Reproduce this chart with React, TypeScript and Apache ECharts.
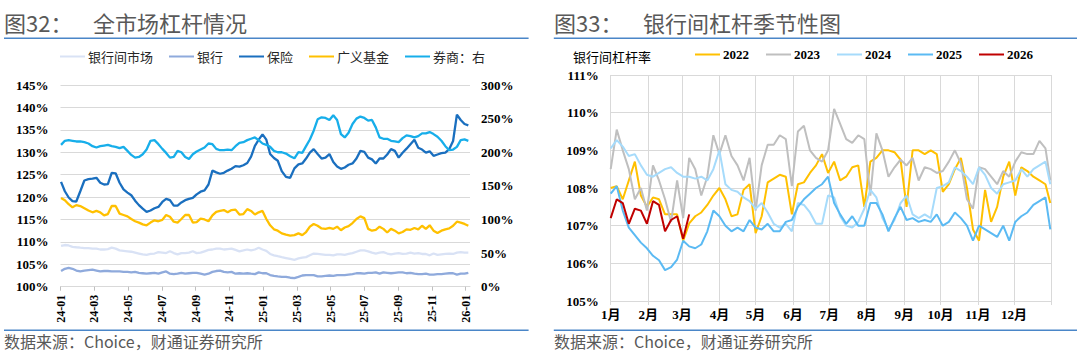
import { useEffect, useRef } from 'react';
import * as echarts from 'echarts';

// ---------- Left chart: 全市场杠杆情况 (weekly, from 2024-01-02) ----------
const leftStart = '2024-01-02';
const leftWeekCount = 106;
const leftTickMonths = [0, 2, 4, 6, 8, 10, 12, 14, 16, 18, 20, 22, 24];

const interbankMarket = [
  109.1, 109.3, 109.2, 108.9, 108.8, 108.7, 108.6, 108.6, 108.5, 108.5,
  108.3, 108.3, 108.4, 108.7, 108.5, 108.1, 108.0, 107.9, 107.8, 107.6,
  107.4, 107.2, 107.1, 107.3, 107.4, 107.7, 107.6, 107.5, 107.9, 107.5,
  107.2, 107.5, 107.5, 107.6, 107.9, 107.5, 107.6, 107.9, 108.2, 108.3,
  108.5, 108.5, 108.3, 108.4, 108.5, 108.2, 107.9, 108.1, 108.3, 108.1,
  108.3, 108.7, 108.3, 108.0, 107.3, 107.0, 106.8, 106.6, 106.4, 106.2,
  106.0, 106.3, 106.5, 106.6, 107.0, 107.4, 107.3, 107.2, 107.1, 107.1,
  107.0, 107.2, 107.2, 107.1, 107.3, 107.5, 107.8, 108.1, 108.1, 107.9,
  107.6, 107.4, 107.6, 107.7, 107.4, 107.2, 107.4, 107.5, 107.3, 107.4,
  107.6, 107.4, 107.5, 107.3, 107.3, 107.0, 107.4, 107.1, 107.2, 107.3,
  107.4, 107.3, 107.6, 107.7, 107.6, 107.6,
];
const banks = [
  103.5, 104.0, 104.2, 104.0, 103.6, 103.4, 103.6, 103.7, 103.8, 103.6,
  103.4, 103.5, 103.5, 103.4, 103.4, 103.4, 103.3, 103.3, 103.2, 103.3,
  103.1, 103.0, 102.9, 103.0, 103.1, 102.9, 103.2, 103.4, 102.9, 102.8,
  102.9, 103.1, 102.9, 103.0, 103.1, 103.1, 102.9, 102.7, 102.9, 103.3,
  103.5, 103.6, 103.3, 103.2, 103.3, 102.9, 103.0, 102.9, 103.0, 102.9,
  102.8, 103.2, 103.0, 103.0, 102.6, 102.4, 102.3, 102.2, 102.2, 102.0,
  101.9, 102.2, 102.5, 102.6, 102.6, 102.6, 102.3, 102.3, 102.4, 102.5,
  102.4, 102.6, 102.6, 102.6, 102.7, 102.8, 103.0, 103.0, 102.9, 103.1,
  103.1, 103.2, 102.9, 103.2, 103.1, 103.0, 103.1, 103.2, 103.2, 103.0,
  103.1, 102.9, 102.8, 102.8, 102.9, 102.7, 102.7, 102.8, 102.8, 102.9,
  103.0, 103.0, 102.7, 102.9, 102.9, 103.1,
];
const insurance = [
  123.4, 121.3, 119.9, 119.1, 119.0, 121.3, 123.7, 124.0, 124.1, 124.3,
  123.2, 122.8, 122.9, 125.4, 125.3, 123.2, 121.7, 121.0, 120.4, 119.2,
  118.2, 117.4, 116.7, 117.0, 117.5, 117.8, 118.9, 119.6, 119.3, 118.1,
  118.1, 118.8, 119.3, 119.6, 119.8, 120.6, 121.2, 121.5, 122.8, 125.9,
  125.5, 125.2, 125.4, 125.9, 126.3, 126.9, 126.8, 127.1, 127.6, 129.0,
  131.4, 132.8, 134.0, 132.8, 129.6, 128.7, 128.1, 125.8, 124.5, 124.3,
  126.4, 127.3, 127.5, 128.6, 129.9, 130.7, 129.6, 128.6, 128.8, 129.6,
  127.8, 126.8, 126.3, 126.6, 127.2, 127.5, 128.6, 130.3, 130.1, 128.8,
  128.4, 127.5, 128.6, 128.6, 129.5, 130.7, 130.3, 128.8, 129.9, 130.8,
  131.8, 132.8, 131.0, 130.6, 129.9, 130.2, 129.2, 129.5, 129.8, 129.9,
  130.7, 132.5, 138.4, 137.2, 136.3, 136.0,
];
const broadFunds = [
  119.8, 119.3, 118.4, 117.7, 118.2, 118.0, 117.5, 117.0, 116.6, 116.9,
  116.6, 115.9, 116.2, 118.0, 118.0, 116.3, 116.0, 115.7, 115.1, 114.6,
  114.3, 113.9, 113.7, 114.3, 114.8, 114.6, 114.9, 116.0, 115.6, 114.5,
  114.3, 115.1, 116.0, 116.0, 114.3, 114.4, 115.2, 115.0, 114.6, 115.9,
  116.7, 116.9, 117.1, 116.6, 117.1, 117.2, 116.1, 116.2, 117.3, 116.9,
  116.1, 116.6, 116.9, 115.1, 113.7, 112.8, 112.5, 111.9, 111.6, 111.4,
  111.5, 111.9, 111.5, 112.2, 113.4, 114.0, 113.6, 113.0, 112.9, 113.1,
  112.9, 113.4, 112.6, 113.2, 113.5, 114.2, 115.1, 115.7, 115.3, 112.9,
  112.5, 112.7, 113.4, 112.9, 112.1, 112.9, 112.5, 111.9, 112.2, 112.8,
  112.7, 113.1, 112.8, 113.6, 112.9, 113.7, 112.5, 112.0, 112.5, 112.8,
  113.0, 113.6, 114.5, 114.3, 114.0, 113.6,
];
const brokers = [
  211, 217, 218, 217, 216, 216, 215, 213, 209, 207,
  209, 210, 211, 209, 208, 206, 208, 202, 196, 192,
  193, 197, 204, 217, 218, 212, 205, 199, 192, 193,
  202, 200, 193, 190, 197, 201, 204, 207, 213, 212,
  205, 203, 203, 204, 203, 209, 214, 215, 218, 220,
  222, 218, 213, 211, 208, 202, 200, 200, 198, 194,
  191, 200, 199, 209, 219, 232, 249, 252, 251, 248,
  255, 248, 227, 222, 229, 242, 250, 253, 251, 247,
  248, 237, 222, 220, 220, 217, 216, 215, 221, 225,
  224, 222, 224, 228, 228, 230, 227, 223, 217, 209,
  203, 204, 208, 218, 219, 217,
];

// ---------- Right chart: 银行间杠杆季节性图 (day of year) ----------
const monthStarts = [0, 31, 59, 90, 120, 151, 181, 212, 243, 273, 304, 334, 365];
const monthLabels = ['1月', '2月', '3月', '4月', '5月', '6月', '7月', '8月', '9月', '10月', '11月', '12月'];
const seasonDays = [
  0, 5, 10, 15, 20, 25, 30, 35, 40, 45, 50, 55, 60, 65, 70, 75, 80, 85, 90, 95,
  100, 105, 110, 115, 120, 125, 130, 135, 140, 145, 150, 155, 160, 165, 170, 175, 180, 185, 190, 195,
  200, 205, 210, 215, 220, 225, 230, 235, 240, 245, 250, 255, 260, 265, 270, 275, 280, 285, 290, 295,
  300, 305, 310, 315, 320, 325, 330, 335, 340, 345, 350, 355, 360, 364,
];
const y2022 = [
  108.0, 108.05, 107.7, 108.2, 108.7, 107.8, 107.5, 107.75, 107.7, 107.3,
  107.3, 107.3, 106.6, 107.06, 107.25, 107.35, 107.55, 107.8, 108.0, 107.7,
  107.25, 107.3, 107.95, 108.1, 106.8, 107.25, 108.15, 108.25, 108.35, 108.3,
  107.3, 108.1, 108.15, 108.4, 108.6, 108.9, 108.4, 108.7, 108.2, 108.3,
  108.55, 108.6, 107.5, 108.7, 108.8, 109.0, 109.0, 108.95, 108.75, 107.5,
  109.0, 109.0, 108.9, 109.0, 108.9, 107.9, 108.1, 108.5, 108.8, 108.0,
  106.9, 106.6, 107.95, 107.1, 107.5, 108.3, 108.7, 107.8, 108.55, 108.45,
  108.3, 108.2, 108.1, 107.6,
];
const y2023 = [
  108.5, 109.55, 109.0, 108.5, 107.7, 108.0, 107.4, 108.6, 108.2, 107.7,
  107.1, 108.2, 107.2, 108.8, 108.5, 107.8, 108.3, 109.4, 108.9, 109.4,
  108.85, 108.6, 108.2, 108.8, 107.4, 108.6, 109.15, 109.15, 109.4, 109.3,
  108.05, 109.5, 109.65, 109.0, 108.8, 108.7, 109.0, 110.1, 109.7, 109.3,
  109.2, 109.4, 109.3, 107.8, 109.45, 109.0, 108.3, 108.55, 108.75, 108.6,
  108.8, 108.2, 108.55, 108.5, 108.4, 108.45, 108.7, 109.0, 108.65, 107.7,
  107.45, 108.55, 108.5, 108.3, 108.1, 108.45, 108.3, 108.7, 108.95, 108.9,
  108.9, 109.25, 109.05, 108.2,
];
const y2024 = [
  109.05, 109.27, 109.1, 108.85, 108.9, 108.6, 108.35, 108.3, 108.4, 108.5,
  108.55, 108.4, 108.3, 108.3, 108.25, 108.3, 108.2, 108.5, 109.0, 108.1,
  107.95, 107.9, 107.75, 107.65, 107.45, 107.6, 107.35, 107.05, 106.95, 107.05,
  106.85, 107.6, 107.55, 107.35, 107.05, 107.05, 107.8, 107.75, 107.25, 107.0,
  106.95, 107.1, 107.45, 107.95, 107.75, 107.2, 106.9, 107.15, 107.6, 107.8,
  107.3, 107.2, 107.3, 107.2, 108.0, 108.05, 108.15, 108.55, 108.45, 108.3,
  108.1, 108.55, 108.35, 108.0, 107.85, 108.1, 108.15, 108.2, 108.5, 108.3,
  108.5, 108.6, 108.7, 108.1,
];
const y2025 = [
  107.85, 108.05, 107.4, 106.95, 106.75, 106.55, 106.4, 106.2, 106.08, 105.82,
  105.9, 106.1, 106.6, 106.45, 106.4, 106.5, 106.85, 107.4, 107.25, 107.0,
  106.85, 106.95, 106.85, 107.15, 106.95, 106.9, 107.05, 106.85, 106.85, 107.1,
  107.15, 107.5, 107.7, 107.85, 108.0, 108.1, 108.3, 107.6, 107.3, 107.05,
  107.25, 107.0, 107.0, 107.6, 107.6, 107.3, 106.85, 107.2, 107.5, 107.15,
  107.2, 107.1, 107.15, 107.1, 107.3, 107.0, 107.1, 107.35, 107.2, 107.0,
  106.6, 107.0, 106.9, 106.8, 106.7, 107.0, 106.6, 107.1, 107.25, 107.35,
  107.55, 107.65, 107.75, 106.9,
];
const y2026 = [
  107.2, 107.7, 107.6, 107.05, 107.45, 107.4, 107.05, 107.65, 107.55, 106.85,
  107.15, 107.25, 106.65, 107.3,
];

const leftNames = ['银行间市场', '银行', '保险', '广义基金', '券商：右'];
const leftColors = ['#d9e2f5', '#8faadc', '#1a6fbf', '#ffc000', '#17aeea'];
const yearNames = ['2022', '2023', '2024', '2025', '2026'];
const yearColors = ['#ffc000', '#bfbfbf', '#a6dbfb', '#5bbaf3', '#c00000'];

const SERIF = '"Liberation Serif", "Times New Roman", "Noto Sans CJK SC", serif';
const CJK = '"Noto Sans CJK SC", sans-serif';

function weekMonthPositions(): number[] {
  const parts = leftStart.split('-').map(Number);
  const t0 = Date.UTC(parts[0], parts[1] - 1, parts[2]);
  const out: number[] = [];
  for (let i = 0; i < leftWeekCount; i++) {
    const d = new Date(t0 + i * 7 * 86400000);
    const y = d.getUTCFullYear();
    const m = d.getUTCMonth();
    const day = d.getUTCDate();
    const dim = new Date(Date.UTC(y, m + 1, 0)).getUTCDate();
    out.push((y - 2024) * 12 + m + (day - 1) / dim);
  }
  return out;
}

export default function App() {
  const ref = useRef<HTMLDivElement>(null);
  useEffect(() => {
    if (!ref.current) return;
    const chart = echarts.init(ref.current, undefined, { renderer: 'svg' });
    const lx = weekMonthPositions();
    const leftData = [interbankMarket, banks, insurance, broadFunds, brokers];
    const yearData = [y2022, y2023, y2024, y2025, y2026];

    const leftSeries = leftNames.map((name, si) => ({
      name,
      type: 'line',
      xAxisIndex: 0,
      yAxisIndex: si === 4 ? 1 : 0,
      data: leftData[si].map((v, i) => [lx[i], v]),
      showSymbol: false,
      symbol: 'none',
      lineStyle: { width: 2.3, color: leftColors[si] },
      itemStyle: { color: leftColors[si] },
      z: 2 + si,
    }));
    const rightSeries = yearNames.map((name, si) => ({
      name,
      type: 'line',
      xAxisIndex: 1,
      yAxisIndex: 2,
      data: yearData[si].map((v, i) => [seasonDays[i], v]),
      showSymbol: false,
      symbol: 'none',
      lineStyle: { width: 2, color: yearColors[si] },
      itemStyle: { color: yearColors[si] },
      z: 2 + si,
    }));

    const titleText = (text: string, x: number) => ({
      type: 'text', x, y: 22,
      style: { text, fill: '#595959', fontSize: 22, fontFamily: CJK, verticalAlign: 'middle' },
    });
    const footText = (x: number) => ({
      type: 'text', x, y: 341,
      style: { text: '数据来源：Choice，财通证券研究所', fill: '#595959', fontSize: 16, fontFamily: CJK, verticalAlign: 'middle' },
    });
    const hline = (x1: number, x2: number, y: number) => ({
      type: 'rect', shape: { x: x1, y, width: x2 - x1, height: 1.5 }, style: { fill: '#4a86c8' },
    });

    const numLabel = { fontFamily: SERIF, fontWeight: 'bold', fontSize: 13, color: '#000' };

    chart.setOption({
      animation: false,
      backgroundColor: '#ffffff',
      graphic: [
        titleText('图32：', 4), titleText('全市场杠杆情况', 93),
        titleText('图33：', 554), titleText('银行间杠杆季节性图', 643),
        hline(4, 528.6, 37.5), hline(553.8, 1077, 37.5),
        hline(4, 528.6, 329.5), hline(553.8, 1077, 329.5),
        footText(4), footText(554),
        {
          type: 'text', x: 573, y: 56,
          style: { text: '银行间杠杆率', fill: '#000', fontSize: 13, fontFamily: CJK, verticalAlign: 'middle' },
        },
      ],
      grid: [
        { left: 60.5, top: 85, width: 409.5, height: 201.7 },
        { left: 610.7, top: 75, width: 440.8, height: 226 },
      ],
      legend: [
        {
          data: leftNames, left: 60, top: 50, padding: 0, icon: 'rect',
          itemWidth: 25, itemHeight: 2, itemGap: 16,
          textStyle: { fontFamily: CJK, fontSize: 13, color: '#262626', padding: [0, 0, 0, -2] },
        },
        {
          data: yearNames, left: 695, top: 48, padding: 0, icon: 'rect',
          itemWidth: 25, itemHeight: 2, itemGap: 17,
          textStyle: { ...numLabel, padding: [0, 0, 0, -2] },
        },
      ],
      xAxis: [
        {
          gridIndex: 0, type: 'value', min: 0, max: 24.26,
          axisLine: { show: true, lineStyle: { color: '#d9d9d9', width: 1 } },
          axisTick: { show: true, customValues: leftTickMonths, length: 4, lineStyle: { color: '#bfbfbf' } },
          axisLabel: {
            customValues: leftTickMonths, rotate: 90, margin: 8,
            fontFamily: SERIF, fontWeight: 'bold', fontSize: 12, color: '#000',
            formatter: (v: number) => {
              const yy = 24 + Math.floor(v / 12);
              const mm = Math.round(v % 12) + 1;
              return `${yy}-${String(mm).padStart(2, '0')}`;
            },
          },
          splitLine: { show: false },
        },
        {
          gridIndex: 1, type: 'value', min: 0, max: 365,
          axisLine: { show: true, lineStyle: { color: '#d9d9d9', width: 1 } },
          axisTick: { show: true, customValues: monthStarts, length: 4, lineStyle: { color: '#d9d9d9' } },
          axisLabel: {
            customValues: monthStarts.slice(0, 12), margin: 7, ...numLabel,
            formatter: (v: number) => monthLabels[monthStarts.indexOf(v)] ?? '',
          },
          splitLine: { show: true, lineStyle: { color: '#d9d9d9', width: 1 } },
        },
      ],
      yAxis: [
        {
          gridIndex: 0, type: 'value', position: 'left', min: 100, max: 145, interval: 5,
          axisLine: { show: false }, axisTick: { show: false },
          axisLabel: { formatter: '{value}%', margin: 12, ...numLabel },
          splitLine: { show: true, lineStyle: { color: '#d9d9d9', width: 1 } },
        },
        {
          gridIndex: 0, type: 'value', position: 'right', min: 0, max: 300, interval: 50,
          axisLine: { show: false }, axisTick: { show: false },
          axisLabel: { formatter: '{value}%', margin: 11, ...numLabel },
          splitLine: { show: false },
        },
        {
          gridIndex: 1, type: 'value', min: 105, max: 111, interval: 1,
          axisLine: { show: false }, axisTick: { show: false },
          axisLabel: { formatter: '{value}%', margin: 12, ...numLabel },
          splitLine: { show: true, lineStyle: { color: '#d9d9d9', width: 1 } },
        },
      ],
      series: [...leftSeries, ...rightSeries],
    });
    return () => chart.dispose();
  }, []);

  return (
    <div
      ref={ref}
      style={{ position: 'fixed', left: 0, top: 0, width: 1080, height: 359, background: '#fff' }}
    />
  );
}
